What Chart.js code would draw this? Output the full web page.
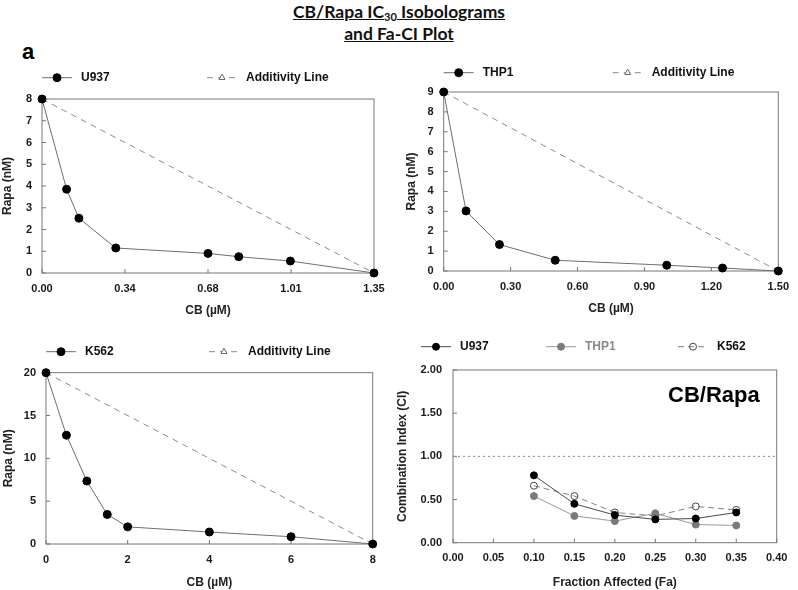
<!DOCTYPE html>
<html>
<head>
<meta charset="utf-8">
<script src="https://cdn.jsdelivr.net/npm/chart.js@4.4.1/dist/chart.umd.min.js"></script>
<style>
  html, body { margin: 0; padding: 0; background: #fff; }
  #page { position: relative; width: 798px; height: 590px; overflow: hidden; font-family: "Liberation Sans", Arial, sans-serif; }
  .title { position: absolute; left: 0; width: 798px; text-align: center; font-family: Lato, "Open Sans", sans-serif; font-weight: bold; font-size: 17.5px; line-height: 21px; color: #111; }
  .title span { text-decoration: underline; }
  .title sub { font-size: 11px; vertical-align: -3px; line-height: 0; }
  #panelLabel { position: absolute; left: 22px; top: 40px; font-size: 22px; font-weight: bold; line-height: 24px; color: #000; }
  #ciLabel { position: absolute; left: 668px; top: 382px; font-size: 22px; font-weight: bold; line-height: 26px; color: #000; }
  canvas { position: absolute; }
</style>
</head>
<body>
<div id="page">
  <div class="title" style="top:1px"><span>CB/Rapa IC<sub>30</sub> Isobolograms</span></div>
  <div class="title" style="top:23px"><span>and Fa-CI Plot</span></div>
  <div id="panelLabel">a</div>
  <canvas id="u937Chart" width="399" height="260" style="left:0;top:60px;width:399px;height:260px"></canvas>
  <canvas id="thp1Chart" width="399" height="260" style="left:399px;top:60px;width:399px;height:260px"></canvas>
  <canvas id="k562Chart" width="399" height="270" style="left:0;top:320px;width:399px;height:270px"></canvas>
  <canvas id="ciChart" width="408" height="270" style="left:390px;top:320px;width:408px;height:270px"></canvas>
  <div id="ciLabel">CB/Rapa</div>
</div>
<script>
// U937 isobologram
const u937Cb = [0, 0.1, 0.15, 0.3, 0.675, 0.8, 1.01, 1.35];
const u937Rapa = [8, 3.85, 2.52, 1.15, 0.9, 0.75, 0.55, 0];
const u937AddCb = [0, 1.35];
const u937AddRapa = [8, 0];
const u937XTicks = [0, 0.3375, 0.675, 1.0125, 1.35];
const u937XLabels = ['0.00', '0.34', '0.68', '1.01', '1.35'];
const u937YTicks = [0, 1, 2, 3, 4, 5, 6, 7, 8];

// THP1 isobologram
const thp1Cb = [0, 0.1, 0.25, 0.5, 1.0, 1.25, 1.5];
const thp1Rapa = [9, 3.02, 1.33, 0.54, 0.29, 0.15, 0];
const thp1AddCb = [0, 1.5];
const thp1AddRapa = [9, 0];
const thp1XTicks = [0, 0.3, 0.6, 0.9, 1.2, 1.5];
const thp1XLabels = ['0.00', '0.30', '0.60', '0.90', '1.20', '1.50'];
const thp1YTicks = [0, 1, 2, 3, 4, 5, 6, 7, 8, 9];

// K562 isobologram
const k562Cb = [0, 0.5, 1, 1.5, 2, 4, 6, 8];
const k562Rapa = [20, 12.7, 7.35, 3.45, 2.0, 1.4, 0.85, 0];
const k562AddCb = [0, 8];
const k562AddRapa = [20, 0];
const k562XTicks = [0, 2, 4, 6, 8];
const k562XLabels = ['0', '2', '4', '6', '8'];
const k562YTicks = [0, 5, 10, 15, 20];

// Fa-CI plot
const fa = [0.10, 0.15, 0.20, 0.25, 0.30, 0.35];
const ciU937 = [0.78, 0.45, 0.32, 0.27, 0.28, 0.35];
const ciThp1 = [0.54, 0.31, 0.25, 0.34, 0.21, 0.20];
const ciK562 = [0.66, 0.54, 0.35, 0.31, 0.42, 0.38];
const ciRefFa = [0, 0.40];
const ciRefValue = [1, 1];
const faTicks = [0, 0.05, 0.10, 0.15, 0.20, 0.25, 0.30, 0.35, 0.40];
const faLabels = ['0.00', '0.05', '0.10', '0.15', '0.20', '0.25', '0.30', '0.35', '0.40'];
const ciTicks = [0, 0.5, 1, 1.5, 2];
const ciLabels = ['0.00', '0.50', '1.00', '1.50', '2.00'];

const FONT = '"Liberation Sans", Arial, sans-serif';
const tickFont = { family: FONT, size: 11, weight: 'bold', lineHeight: 1.2 };
const titleFont = { family: FONT, size: 12, weight: 'bold', lineHeight: 1.2 };

const pts = (xs, ys) => xs.map((x, i) => ({ x: x, y: ys[i] }));

function axis(values, labels, title, size, pad, titlePad) {
  return {
    type: 'linear',
    min: values[0],
    max: values[values.length - 1],
    afterBuildTicks: s => { s.ticks = values.map(v => ({ value: v })); },
    afterFit: s => { if (s.isHorizontal()) s.height = size; else s.width = size; },
    grid: { display: false, drawTicks: false },
    border: { display: false },
    ticks: {
      autoSkip: false, maxRotation: 0, padding: pad, color: '#1a1a1a', font: tickFont,
      callback: (v, i) => labels ? labels[i] : String(v)
    },
    title: { display: true, text: title, color: '#222', font: titleFont, padding: { top: titlePad, bottom: titlePad } }
  };
}

function drawMarker(ctx, style, r, x, y) {
  ctx.beginPath();
  if (style === 'triangle') {
    ctx.moveTo(x, y - r);
    ctx.lineTo(x + r * 0.866, y + r * 0.5);
    ctx.lineTo(x - r * 0.866, y + r * 0.5);
    ctx.closePath();
  } else {
    ctx.arc(x, y, r, 0, Math.PI * 2);
  }
  ctx.fill();
  ctx.stroke();
}

// plot box and inward tick marks
const framePlugin = {
  id: 'framePlugin',
  beforeDatasetsDraw(chart) {
    const { ctx, chartArea: a, scales } = chart;
    ctx.save();
    ctx.strokeStyle = '#777';
    ctx.lineWidth = 1;
    ctx.strokeRect(a.left, a.top, a.right - a.left, a.bottom - a.top);
    ctx.beginPath();
    scales.x.ticks.forEach(t => {
      const px = scales.x.getPixelForValue(t.value);
      ctx.moveTo(px, a.bottom);
      ctx.lineTo(px, a.bottom - 4);
    });
    scales.y.ticks.forEach(t => {
      const py = scales.y.getPixelForValue(t.value);
      ctx.moveTo(a.left, py);
      ctx.lineTo(a.left + 4, py);
    });
    ctx.stroke();
    ctx.restore();
  }
};

// legend: line sample with marker, then label
const lineLegend = {
  id: 'lineLegend',
  afterDraw(chart, args, opts) {
    const ctx = chart.ctx;
    const left = chart.chartArea.left;
    (opts.items || []).forEach(item => {
      const ds = chart.data.datasets[item.dataset];
      const x0 = left + item.x;
      const y = opts.y;
      ctx.save();
      ctx.strokeStyle = ds.borderColor;
      ctx.lineWidth = ds.borderWidth;
      ctx.setLineDash(ds.borderDash || []);
      ctx.beginPath();
      ctx.moveTo(x0, y);
      ctx.lineTo(x0 + 30, y);
      ctx.stroke();
      ctx.setLineDash([]);
      ctx.fillStyle = ds.pointBackgroundColor;
      ctx.strokeStyle = ds.pointBorderColor;
      ctx.lineWidth = ds.pointBorderWidth;
      drawMarker(ctx, ds.pointStyle, ds.pointRadius, x0 + 15, y);
      ctx.fillStyle = item.color || '#111';
      ctx.font = 'bold 12px ' + FONT;
      ctx.textBaseline = 'middle';
      ctx.textAlign = 'left';
      ctx.fillText(ds.label, x0 + 39, y);
      ctx.restore();
    });
  }
};

function cellSeries(label, data) {
  return {
    label: label, data: data, showLine: true, clip: false,
    borderColor: '#6e6e6e', borderWidth: 1,
    pointStyle: 'circle', pointRadius: 4,
    pointBackgroundColor: '#000', pointBorderColor: '#000', pointBorderWidth: 1
  };
}

function additivity(data) {
  return {
    label: 'Additivity Line', data: data, showLine: true, clip: false,
    borderColor: '#8a8a8a', borderWidth: 1, borderDash: [6, 5],
    pointStyle: 'triangle', pointRadius: 3.5,
    pointBackgroundColor: '#fff', pointBorderColor: '#666', pointBorderWidth: 1
  };
}

function isobologram(id, cellLabel, cellData, addData, xAxis, yAxis, padding, legendY, addX) {
  new Chart(document.getElementById(id), {
    type: 'scatter',
    data: { datasets: [cellSeries(cellLabel, cellData), additivity(addData)] },
    options: {
      responsive: false, animation: false, events: [],
      layout: { padding: padding },
      plugins: {
        legend: { display: false }, tooltip: { enabled: false },
        lineLegend: { y: legendY, items: [{ dataset: 0, x: 0 }, { dataset: 1, x: addX }] }
      },
      scales: { x: xAxis, y: yAxis }
    },
    plugins: [framePlugin, lineLegend]
  });
}

isobologram('u937Chart', 'U937', pts(u937Cb, u937Rapa), pts(u937AddCb, u937AddRapa),
  axis(u937XTicks, u937XLabels, 'CB (\u00b5M)', 47, 9, 2),
  axis(u937YTicks, null, 'Rapa (nM)', 42, 10, 0),
  { top: 39, right: 25, left: 0, bottom: 0 }, 17.7, 165);

isobologram('thp1Chart', 'THP1', pts(thp1Cb, thp1Rapa), pts(thp1AddCb, thp1AddRapa),
  axis(thp1XTicks, thp1XLabels, 'CB (\u00b5M)', 49, 9, 4),
  axis(thp1YTicks, null, 'Rapa (nM)', 44.7, 10, 5),
  { top: 32, right: 14, left: 0, bottom: 0 }, 12.7, 169);

isobologram('k562Chart', 'K562', pts(k562Cb, k562Rapa), pts(k562AddCb, k562AddRapa),
  axis(k562XTicks, k562XLabels, 'CB (\u00b5M)', 46, 9, 0),
  axis(k562YTicks, null, 'Rapa (nM)', 46, 10, 1),
  { top: 52.7, right: 26.3, left: 0, bottom: 0 }, 31.7, 163);

new Chart(document.getElementById('ciChart'), {
  type: 'scatter',
  data: {
    datasets: [
      {
        label: 'U937', data: pts(fa, ciU937), showLine: true, clip: false,
        borderColor: '#4a4a4a', borderWidth: 1,
        pointStyle: 'circle', pointRadius: 3.5,
        pointBackgroundColor: '#000', pointBorderColor: '#000', pointBorderWidth: 1
      },
      {
        label: 'THP1', data: pts(fa, ciThp1), showLine: true, clip: false,
        borderColor: '#9a9a9a', borderWidth: 1,
        pointStyle: 'circle', pointRadius: 3.5,
        pointBackgroundColor: '#7a7a7a', pointBorderColor: '#7a7a7a', pointBorderWidth: 1
      },
      {
        label: 'K562', data: pts(fa, ciK562), showLine: true, clip: false,
        borderColor: '#808080', borderWidth: 1, borderDash: [6, 4],
        pointStyle: 'circle', pointRadius: 3.5,
        pointBackgroundColor: 'rgba(255,255,255,0)', pointBorderColor: '#444', pointBorderWidth: 1
      },
      {
        label: '', data: pts(ciRefFa, ciRefValue), showLine: true,
        borderColor: '#8a8a8a', borderWidth: 1, borderDash: [2, 3], pointRadius: 0
      }
    ]
  },
  options: {
    responsive: false, animation: false, events: [],
    layout: { padding: { top: 50, right: 21.3, left: 0, bottom: 0 } },
    plugins: {
      legend: { display: false }, tooltip: { enabled: false },
      lineLegend: {
        y: 26.7,
        items: [
          { dataset: 0, x: -32 },
          { dataset: 1, x: 93, color: '#8a8a8a' },
          { dataset: 2, x: 225 }
        ]
      }
    },
    scales: {
      x: axis(faTicks, faLabels, 'Fraction Affected (Fa)', 47.3, 9, 0),
      y: axis(ciTicks, ciLabels, 'Combination Index (CI)', 63, 11, 5)
    }
  },
  plugins: [framePlugin, lineLegend]
});
</script>
</body>
</html>
